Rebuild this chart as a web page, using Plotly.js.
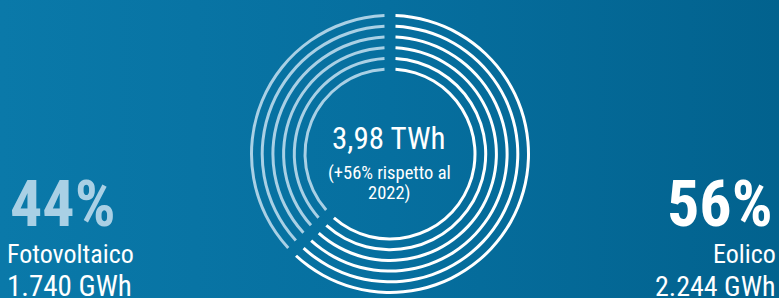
<!DOCTYPE html>
<html>
<head>
<meta charset="utf-8">
<script src="https://cdn.plot.ly/plotly-3.0.1.min.js"></script>
<style>
  html, body { margin: 0; padding: 0; }
  body { width: 779px; height: 298px; overflow: hidden;
         background: linear-gradient(to right, #0a79a9 0%, #066f9f 50%, #02628e 100%); }
  #chart { width: 779px; height: 298px; }
</style>
</head>
<body>
<div id="chart"></div>
<script>
// ---- data ----
const sources = ["Eolico", "Fotovoltaico"];
const energyLabels = ["2.244 GWh", "1.740 GWh"];
const sharePct = [56, 44];
const totalLabel = "3,98 TWh";
const changeLines = ["(+56% rispetto al", "2022)"];
// share of the ring drawn by each arc
const arcShare = [62.5, 37.5];
// ring centre-line radii (px), outermost first
const ringRadii = [138.5, 127.8, 117.1, 106.4, 95.7, 85.0];

// ---- style ----
const W = 779, H = 298;
const cx = 390, cy = 154;
const lineW = 3;
const gapPx = 11;
const white = "#ffffff";
const light = "#a9d0e5";
const clear = "rgba(0,0,0,0)";

const traces = ringRadii.map(r => {
  const R = r + lineW / 2;
  const gapPct = (gapPx / r) * (180 / Math.PI) / 3.6;
  return {
    type: "pie",
    values: [gapPct / 2, arcShare[0] - gapPct, gapPct, arcShare[1] - gapPct, gapPct / 2],
    labels: ["g1", sources[0], "g2", sources[1], "g3"],
    marker: { colors: [clear, white, clear, light, clear], line: { width: 0 } },
    sort: false,
    direction: "clockwise",
    rotation: 0,
    hole: (R - lineW) / R,
    textinfo: "none",
    hoverinfo: "skip",
    showlegend: false,
    domain: {
      x: [(cx - R) / W, (cx + R) / W],
      y: [(H - cy - R) / H, (H - cy + R) / H]
    }
  };
});

const fam = "Roboto Condensed, Roboto, sans-serif";
const ann = (text, x, y, size, color, xanchor, weight) => ({
  text, x: x / W, y: 1 - y / H, xref: "paper", yref: "paper",
  xanchor, yanchor: "middle", showarrow: false,
  font: { family: fam, size, color, weight: weight || 400 }
});

const layout = {
  width: W, height: H,
  margin: { l: 0, r: 0, t: 0, b: 0 },
  paper_bgcolor: "rgba(0,0,0,0)",
  plot_bgcolor: "rgba(0,0,0,0)",
  showlegend: false,
  annotations: [
    ann(totalLabel, 388, 138, 31, white, "center"),
    ann(changeLines[0], 389, 173, 18.5, white, "center"),
    ann(changeLines[1], 389, 192.5, 18.5, white, "center"),
    ann(sharePct[1] + "%", 8, 205, 64, light, "left", 700),
    ann(sources[1], 5, 254, 26, white, "left"),
    ann(energyLabels[1], 5, 286, 29, white, "left"),
    ann(sharePct[0] + "%", 775, 205, 64, white, "right", 700),
    ann(sources[0], 778, 254, 26, white, "right"),
    ann(energyLabels[0], 778, 286, 28, white, "right")
  ]
};

Plotly.newPlot("chart", traces, layout, { staticPlot: true, displayModeBar: false });
</script>
</body>
</html>
